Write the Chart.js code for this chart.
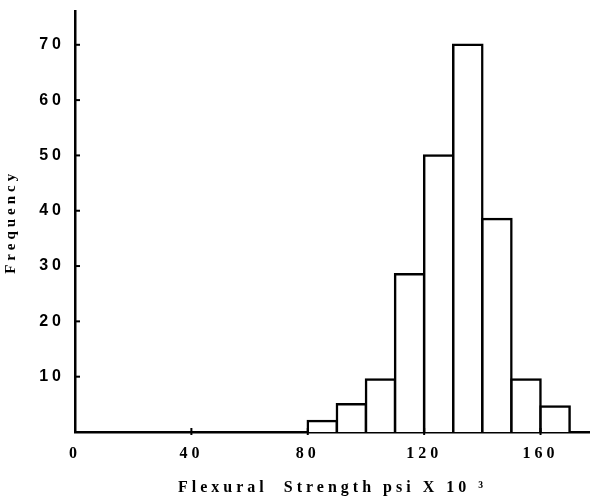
<!DOCTYPE html>
<html>
<head>
<meta charset="utf-8">
<script src="https://cdn.jsdelivr.net/npm/chart.js@4"></script>
<style>
  body { margin: 0; background: #fff; }
  #box { width: 590px; height: 500px; }
</style>
</head>
<body>
<div id="box"><canvas id="myChart" width="590" height="500"></canvas></div>
<script>
// histogram bins (psi x 10^3) and counts
const binStart = [80, 90, 100, 110, 120, 130, 140, 150, 160];
const binWidth = 10;
const frequency = [2, 5, 9.5, 28.5, 50, 70, 38.5, 9.5, 4.6];

const xTicks = [0, 40, 80, 120, 160];
const yTicks = [10, 20, 30, 40, 50, 60, 70];

const xTitle = "Flexural  Strength psi X 10 \u00B3";
const yTitle = "Frequency";

// small tick marks that point into the plot, like the original
const innerTicks = {
    id: "innerTicks",
    beforeDraw(chart) {
        chart.ctx.letterSpacing = "4px";
    },
    afterDraw(chart) {
        let ctx = chart.ctx;
        let x = chart.scales.x;
        let y = chart.scales.y;
        ctx.save();
        ctx.strokeStyle = "#000";
        ctx.lineWidth = 2;
        yTicks.forEach(v => {
            let py = y.getPixelForValue(v);
            ctx.beginPath();
            ctx.moveTo(x.left, py);
            ctx.lineTo(x.left + 5, py);
            ctx.stroke();
        });
        xTicks.slice(1).forEach(v => {
            let px = x.getPixelForValue(v);
            ctx.beginPath();
            ctx.moveTo(px, y.bottom + 3);
            ctx.lineTo(px, y.bottom - 4);
            ctx.stroke();
        });
        ctx.restore();
    }
};

let ctx = document.getElementById("myChart");
let myChart = new Chart(ctx, {
    type: "bar",
    data: {
        datasets: [{
            label: yTitle,
            data: binStart.map((s, i) => ({ x: s + binWidth / 2, y: frequency[i] })),
            backgroundColor: "#fff",
            borderColor: "#000",
            borderWidth: 2.5,
            inflateAmount: 1.25,
            barPercentage: 1,
            categoryPercentage: 1,
            grouped: false
        }]
    },
    options: {
        responsive: false,
        animation: false,
        layout: { padding: { top: 8, right: 0, left: 0, bottom: 0 } },
        plugins: {
            legend: { display: false },
            tooltip: { enabled: false }
        },
        scales: {
            x: {
                type: "linear",
                min: 0,
                max: 177,
                offset: false,
                afterBuildTicks: scale => { scale.ticks = xTicks.map(v => ({ value: v })); },
                afterFit: scale => { scale.height = 68; },
                grid: { display: false },
                border: { color: "#000", width: 2.5 },
                ticks: {
                    color: "#000",
                    padding: 4,
                    maxRotation: 0,
                    font: { family: "Liberation Serif", size: 16, weight: "bold" }
                },
                title: {
                    display: true,
                    text: xTitle,
                    color: "#000",
                    padding: { top: 0, bottom: 3 },
                    font: { family: "Liberation Serif", size: 16, weight: "bold" }
                }
            },
            y: {
                min: 0,
                max: 76,
                afterBuildTicks: scale => { scale.ticks = yTicks.map(v => ({ value: v })); },
                afterFit: scale => { scale.width = 75; },
                grid: { display: false },
                border: { color: "#000", width: 2.5 },
                ticks: {
                    color: "#000",
                    padding: 2,
                    font: { family: "Liberation Sans", size: 16, weight: "bold" }
                },
                title: {
                    display: true,
                    text: yTitle,
                    color: "#000",
                    padding: { top: 2, bottom: 0 },
                    font: { family: "Liberation Serif", size: 15, weight: "bold" }
                }
            }
        }
    },
    plugins: [innerTicks]
});
</script>
</body>
</html>
